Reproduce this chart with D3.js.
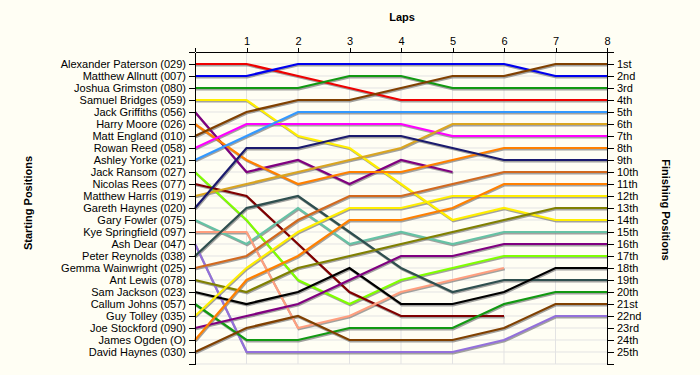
<!DOCTYPE html>
<html>
<head>
<meta charset="utf-8">
<script src="https://cdn.jsdelivr.net/npm/d3@7"></script>
<style>
  body { margin: 0; background: #fffef4; }
  svg { display: block; font-family: "Liberation Sans", Arial, sans-serif; }
  .axis text { font-size: 11px; fill: #000; }
  .axis line, .axis path { stroke: #000; }
  .title { font-size: 11px; font-weight: bold; }
</style>
</head>
<body>
<div id="chart"></div>
<script>

// drivers in starting order
var drivers = [
    "Alexander Paterson (029)", "Matthew Allnutt (007)", "Joshua Grimston (080)",
    "Samuel Bridges (059)", "Jack Griffiths (056)", "Harry Moore (026)",
    "Matt England (010)", "Rowan Reed (058)", "Ashley Yorke (021)",
    "Jack Ransom (027)", "Nicolas Rees (077)", "Matthew Harris (019)",
    "Gareth Haynes (020)", "Gary Fowler (075)", "Kye Springfield (097)",
    "Ash Dear (047)", "Peter Reynolds (038)", "Gemma Wainwright (025)",
    "Ant Lewis (078)", "Sam Jackson (023)", "Callum Johns (057)",
    "Guy Tolley (035)", "Joe Stockford (090)", "James Ogden (O)", "David Haynes (030)"
];

// position at lap 0..8 for each driver (shorter = retired)
var positions = [
    [1, 1, 2, 3, 4, 4, 4, 4, 4],
    [2, 2, 1, 1, 1, 1, 1, 2, 2],
    [3, 3, 3, 2, 2, 3, 3, 3, 3],
    [4, 4, 7, 8, 11, 14, 13, 14, 14],
    [5, 10, 9, 11, 9, 10],
    [6, 9, 11, 10, 10, 9, 8, 8, 8],
    [7, 5, 4, 4, 3, 2, 2, 1, 1],
    [8, 6, 6, 6, 6, 7, 7, 7, 7],
    [9, 7, 5, 5, 5, 5, 5, 5, 5],
    [10, 14, 19, 21, 19, 18, 17, 17, 17],
    [11, 12, 16, 20, 22, 22, 22],
    [12, 11, 10, 9, 8, 6, 6, 6, 6],
    [13, 8, 8, 7, 7, 8, 9, 9, 9],
    [14, 16, 13, 16, 15, 16, 15, 15, 15],
    [15, 15, 23, 22, 20, 19, 18],
    [16, 25, 25, 25, 25, 25, 24, 22, 22],
    [17, 13, 12, 15, 18, 20, 19, 19, 19],
    [18, 17, 14, 12, 12, 11, 10, 10, 10],
    [19, 20, 18, 17, 16, 15, 14, 13, 13],
    [20, 21, 20, 18, 21, 21, 20, 18, 18],
    [21, 24, 24, 23, 23, 23, 21, 20, 20],
    [22, 18, 15, 13, 13, 12, 12, 12, 12],
    [23, 22, 21, 19, 17, 17, 16, 16, 16],
    [24, 19, 17, 14, 14, 13, 11, 11, 11],
    [25, 23, 22, 24, 24, 24, 23, 21, 21]
];

var lineColors = [
    "#ee0000", "#0000ee", "#119911", "#ffee00", "#800080", "#ff8000", "#804000",
    "#ff00ff", "#3399ff", "#80ff00", "#800000", "#daa520", "#1a1a6e", "#66c2a5",
    "#ff9f7f", "#9370db", "#2f4f4f", "#d2691e", "#808000", "#000000",
    "#119911", "#ffee00", "#800080", "#ff8000", "#804000"
];

var lapLabels = ["1", "2", "3", "4", "5", "6", "7", "8"];

var finishLabels = [
    "1st", "2nd", "3rd", "4th", "5th", "6th", "7th", "8th", "9th", "10th",
    "11th", "12th", "13th", "14th", "15th", "16th", "17th", "18th", "19th", "20th",
    "21st", "22nd", "23rd", "24th", "25th"
];

(function() {
    var width = 700, height = 375;
    var margin = {left: 195, right: 607, top: 52, bottom: 364};

    var svg = d3.select("#chart").append("svg")
        .attr("width", width)
        .attr("height", height);

    svg.append("rect").attr("width", width).attr("height", height).attr("fill", "#fffef4");

    var x = d3.scaleLinear().domain([0, 8]).range([margin.left, margin.right]);
    var y = d3.scaleLinear().domain([0, 26]).range([margin.top, margin.bottom]);

    // grid
    svg.append("g").selectAll("line")
        .data(d3.range(1, 8))
        .enter().append("line")
        .attr("x1", d => x(d)).attr("x2", d => x(d))
        .attr("y1", margin.top).attr("y2", margin.bottom)
        .attr("stroke", "#e3e3e3");

    svg.append("g").selectAll("line")
        .data(d3.range(1, 27))
        .enter().append("line")
        .attr("x1", margin.left).attr("x2", margin.right)
        .attr("y1", d => y(d)).attr("y2", d => y(d))
        .attr("stroke", "#e3e3e3");

    // lines
    var line = d3.line()
        .x((d, i) => x(i))
        .y(d => y(d));

    svg.append("g")
        .attr("transform", "translate(0.8,1.3)")
        .selectAll("path")
        .data(positions)
        .enter().append("path")
        .attr("d", line)
        .attr("fill", "none")
        .attr("stroke", "#7a7a7a")
        .attr("stroke-opacity", 0.7)
        .attr("stroke-width", 2.2);

    svg.append("g")
        .selectAll("path")
        .data(positions)
        .enter().append("path")
        .attr("d", line)
        .attr("fill", "none")
        .attr("stroke", (d, i) => lineColors[i])
        .attr("stroke-width", 2.2);

    // axes
    var yLeft = d3.axisLeft(y)
        .tickValues(d3.range(0, 27))
        .tickSize(6).tickSizeOuter(0).tickPadding(3)
        .tickFormat(d => d >= 1 && d <= 25 ? drivers[d - 1] : "");

    var yRight = d3.axisRight(y)
        .tickValues(d3.range(0, 27))
        .tickSize(7).tickSizeOuter(0).tickPadding(3)
        .tickFormat(d => d >= 1 && d <= 25 ? finishLabels[d - 1] : "");

    var xTop = d3.axisTop(x)
        .tickValues(d3.range(0, 9))
        .tickSize(4).tickSizeOuter(0).tickPadding(3)
        .tickFormat(d => d >= 1 ? lapLabels[d - 1] : "");

    svg.append("g").attr("class", "axis").attr("transform", "translate(" + margin.left + ",0)").call(yLeft);
    svg.append("g").attr("class", "axis").attr("transform", "translate(" + margin.right + ",0)").call(yRight);
    svg.append("g").attr("class", "axis").attr("transform", "translate(0," + margin.top + ")").call(xTop);

    svg.selectAll(".axis line, .axis path").attr("shape-rendering", "crispEdges");

    // titles
    svg.append("text").attr("class", "title")
        .attr("x", 402).attr("y", 21)
        .attr("text-anchor", "middle")
        .text("Laps");

    svg.append("text").attr("class", "title")
        .attr("transform", "translate(32,203) rotate(-90)")
        .attr("text-anchor", "middle")
        .text("Starting Positions");

    svg.append("text").attr("class", "title")
        .attr("transform", "translate(662,210) rotate(90)")
        .attr("text-anchor", "middle")
        .text("Finishing Positions");
})();

</script>
</body>
</html>
